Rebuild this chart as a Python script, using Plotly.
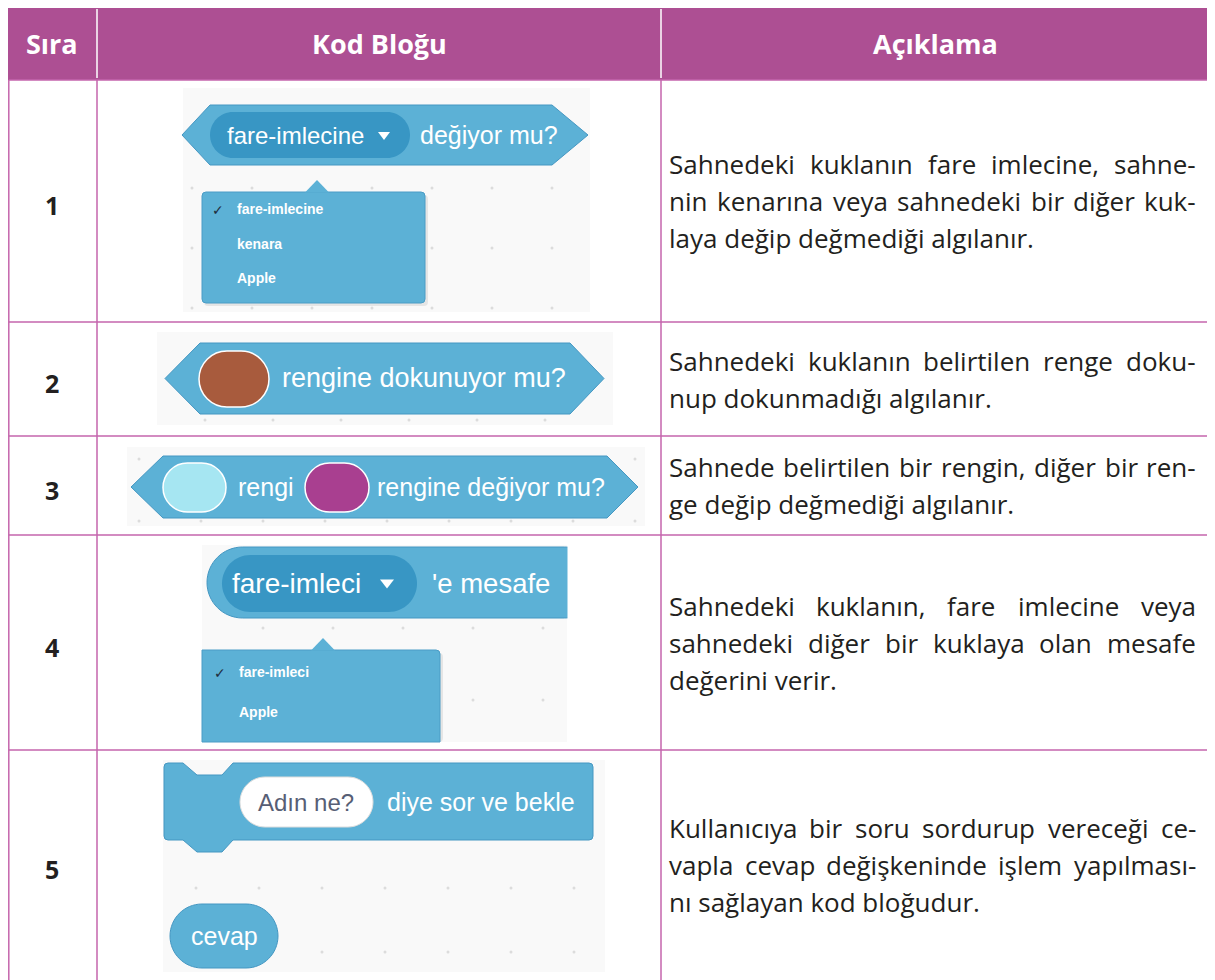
import plotly.graph_objects as go

# ---------------- data ----------------
HEADERS = ["Sıra", "Kod Bloğu", "Açıklama"]
ROW_NUMBERS = ["1", "2", "3", "4", "5"]
DESCRIPTIONS = [
    ["Sahnedeki kuklanın fare imlecine, sahne-",
     "nin kenarına veya sahnedeki bir diğer kuk-",
     "laya değip değmediği algılanır."],
    ["Sahnedeki kuklanın belirtilen renge doku-",
     "nup dokunmadığı algılanır."],
    ["Sahnede belirtilen bir rengin, diğer bir ren-",
     "ge değip değmediği algılanır."],
    ["Sahnedeki kuklanın, fare imlecine veya",
     "sahnedeki diğer bir kuklaya olan mesafe",
     "değerini verir."],
    ["Kullanıcıya bir soru sordurup vereceği ce-",
     "vapla cevap değişkeninde işlem yapılması-",
     "nı sağlayan kod bloğudur."],
]
BLOCK1_LABELS = ["fare-imlecine", "değiyor mu?"]
BLOCK1_MENU = ["fare-imlecine", "kenara", "Apple"]
BLOCK2_LABELS = ["rengine dokunuyor mu?"]
BLOCK3_LABELS = ["rengi", "rengine değiyor mu?"]
BLOCK4_LABELS = ["fare-imleci", "'e mesafe"]
BLOCK4_MENU = ["fare-imleci", "Apple"]
BLOCK5_LABELS = ["Adın ne?", "diye sor ve bekle", "cevap"]

# ---------------- layout geometry / styles ----------------
W, H = 1215, 980
PAGE_OFF = 8  # the page body margin: data units are page pixels
X_LEFT, X_COL1, X_COL2, X_RIGHT = 8.8, 97, 661, 1209
Y_TOP, Y_HEAD = 8, 80
ROW_BOUNDS = [80, 322, 436, 535, 750, 980]
PURPLE = "#AD4F93"
BORDER = "#C565AC"
BLOCK = "#5CB1D6"
BLOCK_EDGE = "#4597C2"
FIELD = "#3896C4"
MENU_EDGE = "#4A9CC6"
BG = "#F9F9F9"
TEXT = "#231F20"
DESC_FONT = "Open Sans"
BLOCK_FONT = "Liberation Sans"
DESC_SIZE = 26
LINE_GAP = 37
DESC_X0, DESC_X1 = 669, 1196

CW = {' ': 0.26, 'a': 0.556, 'b': 0.613, 'c': 0.476, 'd': 0.613, 'e': 0.561, 'f': 0.339,
      'g': 0.548, 'h': 0.614, 'i': 0.253, 'ı': 0.253, 'j': 0.253, 'k': 0.525, 'l': 0.253,
      'm': 0.930, 'n': 0.614, 'o': 0.604, 'p': 0.613, 'r': 0.408, 's': 0.477, 'ş': 0.477,
      't': 0.353, 'u': 0.614, 'ü': 0.614, 'v': 0.501, 'w': 0.778, 'y': 0.501, 'z': 0.448,
      'ç': 0.476, 'ğ': 0.548, 'ö': 0.604, 'S': 0.531, 'K': 0.578, ',': 0.245, '.': 0.266,
      '-': 0.322, '?': 0.429}


def text_w(s, size):
    return sum(CW.get(ch, 0.55) for ch in s) * size


fig = go.Figure()
shapes = []
annotations = []


def add_shape(**kw):
    kw.setdefault("xref", "x")
    kw.setdefault("yref", "y")
    shapes.append(kw)


def add_text(x, y, text, size, color="white", family=BLOCK_FONT, xanchor="left", yanchor="middle"):
    annotations.append(dict(x=x, y=y, xref="x", yref="y", text=text, showarrow=False,
                            xanchor=xanchor, yanchor=yanchor, borderpad=0, borderwidth=0,
                            font=dict(family=family, size=size, color=color)))


def pill(x0, y0, x1, y1):
    r = (y1 - y0) / 2
    k = 0.5523 * r
    return (f"M{x0 + r},{y0} L{x1 - r},{y0} C{x1 - r + k},{y0} {x1},{y0 + r - k} {x1},{y0 + r} "
            f"C{x1},{y0 + r + k} {x1 - r + k},{y1} {x1 - r},{y1} L{x0 + r},{y1} "
            f"C{x0 + r - k},{y1} {x0},{y0 + r + k} {x0},{y0 + r} "
            f"C{x0},{y0 + r - k} {x0 + r - k},{y0} {x0 + r},{y0} Z")


def rrect(x0, y0, x1, y1, r, tl=True, tr=True, br=True, bl=True):
    p = f"M{x0 + (r if tl else 0)},{y0} L{x1 - (r if tr else 0)},{y0} "
    p += f"Q{x1},{y0} {x1},{y0 + r} " if tr else ""
    p += f"L{x1},{y1 - (r if br else 0)} "
    p += f"Q{x1},{y1} {x1 - r},{y1} " if br else ""
    p += f"L{x0 + (r if bl else 0)},{y1} "
    p += f"Q{x0},{y1} {x0},{y1 - r} " if bl else ""
    p += f"L{x0},{y0 + (r if tl else 0)} "
    p += f"Q{x0},{y0} {x0 + r},{y0} " if tl else ""
    return p + "Z"


def hexa(xl, xtl, xtr, xr, y0, y1):
    ym = (y0 + y1) / 2
    return f"M{xl},{ym} L{xtl},{y0} L{xtr},{y0} L{xr},{ym} L{xtr},{y1} L{xtl},{y1} Z"


def tri(cx, cy, w, h):
    return f"M{cx - w / 2},{cy - h / 2} L{cx + w / 2},{cy - h / 2} L{cx},{cy + h / 2} Z"


def menu(x0, y0, x1, y1, apex_x, apex_y, left_cut=False, bottom_cut=False):
    body = rrect(x0, y0, x1, y1, 4, tl=not left_cut, bl=not (left_cut or bottom_cut),
                 br=not bottom_cut)
    add_shape(type="path", path=rrect(x0 + 2, y0 + 3, x1 + 3, y1 + (0 if bottom_cut else 3), 4),
              fillcolor="rgba(0,0,0,0.08)", line=dict(width=0))
    add_shape(type="path", path=body, fillcolor=BLOCK, line=dict(color=MENU_EDGE, width=1))
    add_shape(type="path", path=f"M{apex_x - 12},{y0 + 0.5} L{apex_x},{apex_y} L{apex_x + 12},{y0 + 0.5} Z",
              fillcolor=BLOCK, line=dict(color=BLOCK, width=0))


# ---------------- table frame ----------------
add_shape(type="rect", x0=5, y0=Y_TOP - 5, x1=1212, y1=Y_HEAD, fillcolor=PURPLE, line=dict(width=0), layer="below")
for xc in (X_COL1, X_COL2):
    add_shape(type="line", x0=xc, y0=Y_TOP + 1, x1=xc, y1=Y_HEAD - 2, line=dict(color="white", width=1.5))
for xc in (X_LEFT, X_COL1, X_COL2, X_RIGHT):
    add_shape(type="line", x0=xc, y0=Y_HEAD, x1=xc, y1=H, line=dict(color=BORDER, width=1.5))
for yr in ROW_BOUNDS[:-1]:
    add_shape(type="line", x0=X_LEFT, y0=yr, x1=X_RIGHT, y1=yr, line=dict(color=BORDER, width=1.5))

head_x = [(7 + X_COL1) / 2, (X_COL1 + X_COL2) / 2, (X_COL2 + X_RIGHT) / 2]
for hx, label in zip(head_x, HEADERS):
    add_text(hx, 43, f"<b>{label}</b>", 27, "white", DESC_FONT, xanchor="center")

row_centers = [(ROW_BOUNDS[i] + ROW_BOUNDS[i + 1]) / 2 for i in range(5)]
for rc, num in zip(row_centers, ROW_NUMBERS):
    add_text(52, rc + 4, f"<b>{num}</b>", 25, TEXT, DESC_FONT, xanchor="center")

# ---------------- justified descriptions ----------------
for rc, lines in zip(row_centers, DESCRIPTIONS):
    n = len(lines)
    for i, line in enumerate(lines):
        y = rc + (i - (n - 1) / 2) * LINE_GAP
        if i == n - 1:
            add_text(DESC_X0, y, line, DESC_SIZE, TEXT, DESC_FONT)
            continue
        words = line.split(" ")
        widths = [text_w(w, DESC_SIZE) for w in words]
        gap = (DESC_X1 - DESC_X0 - sum(widths)) / (len(words) - 1)
        x = DESC_X0
        for j, (wd, ww) in enumerate(zip(words, widths)):
            if j == len(words) - 1:
                add_text(DESC_X1, y, wd, DESC_SIZE, TEXT, DESC_FONT, xanchor="right")
            else:
                add_text(x, y, wd, DESC_SIZE, TEXT, DESC_FONT)
            x += ww + gap

# ---------------- code-block pictures ----------------
IMG_BOXES = [(183, 88, 590, 312), (157, 332, 613, 425), (127, 447, 645, 526),
             (202, 545, 567, 742), (163, 760, 605, 972)]
for (x0, y0, x1, y1) in IMG_BOXES:
    add_shape(type="rect", x0=x0, y0=y0, x1=x1, y1=y1, fillcolor=BG, line=dict(width=0), layer="below")

# grid dots of the Scratch workspace
DOT_GRIDS = [(192, 128, 60, 60), (205, 420, 68, 68), (139, 459, 62, 62),
             (193, 628, 70, 72), (196, 760, 63, 64)]
dx, dy = [], []
for (bx0, by0, bx1, by1), (gx, gy, sx, sy) in zip(IMG_BOXES, DOT_GRIDS):
    yy = gy
    while yy <= by1 - 3:
        xx = gx
        while xx <= bx1 - 3:
            if xx >= bx0 + 3 and yy >= by0 + 1:
                dx.append(xx)
                dy.append(yy)
            xx += sx
        yy += sy
fig.add_trace(go.Scatter(x=dx, y=dy, mode="markers", hoverinfo="skip",
                         marker=dict(size=3, color="#DCDCDC")))

# block 1
add_shape(type="path", path=hexa(182, 210, 552, 588, 105, 165), fillcolor=BLOCK, line=dict(color=BLOCK_EDGE, width=1))
add_shape(type="path", path=pill(210, 112, 410, 158), fillcolor=FIELD, line=dict(width=0))
add_shape(type="path", path=tri(384, 136, 12, 8), fillcolor="white", line=dict(width=0))
add_text(227, 135, BLOCK1_LABELS[0], 24)
add_text(420, 135, BLOCK1_LABELS[1], 25)
menu(202, 192, 425, 303, 317, 180)
for k, item in enumerate(BLOCK1_MENU):
    add_text(237, 209 + k * 34.5, f"<b>{item}</b>", 14)
add_text(212, 210, "✓", 14, "#1F2D3D", "DejaVu Sans")

# block 2
add_shape(type="path", path=hexa(165, 200, 570, 604, 343, 414), fillcolor=BLOCK, line=dict(color=BLOCK_EDGE, width=1))
add_shape(type="path", path=pill(199, 351, 269, 407), fillcolor="#A85B3D", line=dict(color="white", width=1.5))
add_text(282, 378, BLOCK2_LABELS[0], 27)

# block 3
add_shape(type="path", path=hexa(131, 163, 607, 638, 456, 518), fillcolor=BLOCK, line=dict(color=BLOCK_EDGE, width=1))
add_shape(type="path", path=pill(163, 463, 226, 512), fillcolor="#A6E6F2", line=dict(color="white", width=1.5))
add_shape(type="path", path=pill(305, 463, 369, 512), fillcolor="#A93F90", line=dict(color="white", width=1.5))
add_text(238, 487, BLOCK3_LABELS[0], 25)
add_text(377, 487, BLOCK3_LABELS[1], 25)

# block 4
add_shape(type="path", path=pill(207, 547, 600, 618), fillcolor=BLOCK, line=dict(color=BLOCK_EDGE, width=1))
add_shape(type="rect", x0=567.5, y0=540, x1=610, y1=625, fillcolor="white", line=dict(width=0))
add_shape(type="path", path=pill(222, 555, 417, 612), fillcolor=FIELD, line=dict(width=0))
add_shape(type="path", path=tri(387, 584, 14, 9), fillcolor="white", line=dict(width=0))
add_text(232, 583, BLOCK4_LABELS[0], 28)
add_text(432, 583, BLOCK4_LABELS[1], 27.5)
menu(202, 650, 440, 742, 323, 638, left_cut=True, bottom_cut=True)
for k, item in enumerate(BLOCK4_MENU):
    add_text(239, 672 + k * 40, f"<b>{item}</b>", 14)
add_text(214, 673, "✓", 14, "#1F2D3D", "DejaVu Sans")

# block 5
x0, x1, y0, y1 = 164, 593, 763, 840
a, b, c, d, dep = 183, 197, 222, 233, 12
stack = (f"M{x0},{y0 + 4} Q{x0},{y0} {x0 + 4},{y0} L{a},{y0} L{b},{y0 + dep} L{c},{y0 + dep} L{d},{y0} "
         f"L{x1 - 4},{y0} Q{x1},{y0} {x1},{y0 + 4} L{x1},{y1 - 4} Q{x1},{y1} {x1 - 4},{y1} "
         f"L{d},{y1} L{c},{y1 + dep} L{b},{y1 + dep} L{a},{y1} L{x0 + 4},{y1} Q{x0},{y1} {x0},{y1 - 4} Z")
add_shape(type="path", path=stack, fillcolor=BLOCK, line=dict(color=BLOCK_EDGE, width=1))
add_shape(type="path", path=pill(240, 777, 373, 827), fillcolor="white", line=dict(color="#DDDDDD", width=1))
add_text(306, 802, BLOCK5_LABELS[0], 24, "#575E75", xanchor="center")
add_text(387, 802, BLOCK5_LABELS[1], 25)
add_shape(type="path", path=pill(170, 904, 278, 968), fillcolor=BLOCK, line=dict(color=BLOCK_EDGE, width=1))
add_text(224, 936, BLOCK5_LABELS[2], 25, xanchor="center")

fig.update_layout(
    width=W - PAGE_OFF, height=H - PAGE_OFF, margin=dict(l=0, r=0, t=0, b=0),
    paper_bgcolor="white", plot_bgcolor="white", showlegend=False,
    xaxis=dict(range=[PAGE_OFF, W], visible=False, fixedrange=True),
    yaxis=dict(range=[H, PAGE_OFF], visible=False, fixedrange=True),
    shapes=shapes, annotations=annotations,
)
fig.write_html("out.html")
